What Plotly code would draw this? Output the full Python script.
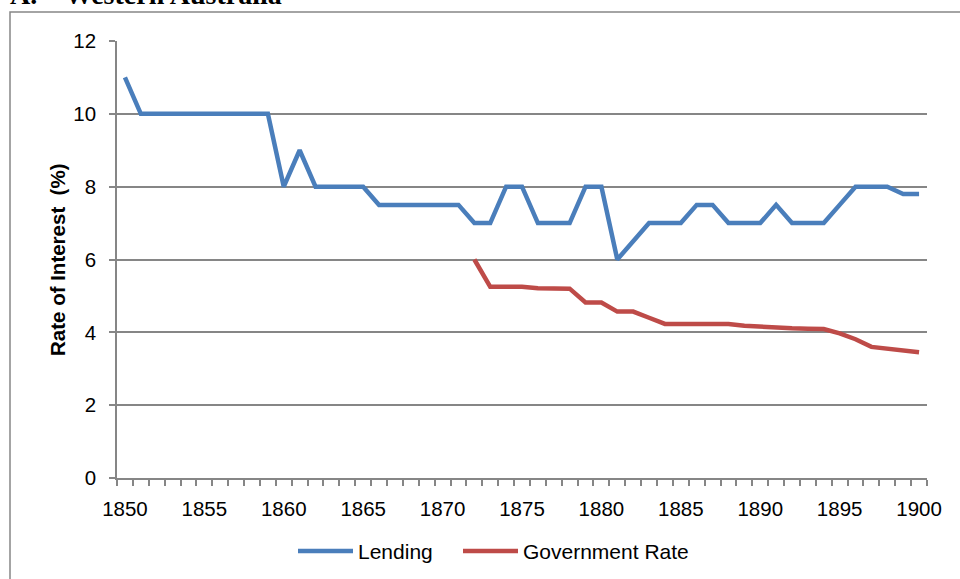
import plotly.graph_objects as go

years = list(range(1850, 1901))
lending = [11, 10, 10, 10, 10, 10, 10, 10, 10, 10,
           8, 9, 8, 8, 8, 8, 7.5, 7.5, 7.5, 7.5,
           7.5, 7.5, 7, 7, 8, 8, 7, 7, 7, 8,
           8, 6, 6.5, 7, 7, 7, 7.5, 7.5, 7, 7,
           7, 7.5, 7, 7, 7, 7.5, 8, 8, 8, 7.8,
           7.8]
gov_years = list(range(1872, 1901))
gov_rate = [6.0, 5.25, 5.25, 5.25, 5.21, 5.2, 5.2, 4.82, 4.82, 4.57,
            4.57, 4.4, 4.23, 4.23, 4.23, 4.23, 4.23, 4.18, 4.15, 4.13,
            4.11, 4.1, 4.09, 3.97, 3.81, 3.6, 3.54, 3.5, 3.45]
x_labels = list(range(1850, 1901, 5))
y_ticks = [0, 2, 4, 6, 8, 10, 12]
series_names = ["Lending", "Government Rate"]

BLUE = "#4A7EBB"
RED = "#BE4B48"
GRID = "#868686"
FONT = "Arial, Liberation Sans, sans-serif"

fig = go.Figure()
fig.add_trace(go.Scatter(x=years, y=lending, mode="lines", name=series_names[0],
                         line=dict(color=BLUE, width=4.5), showlegend=False))
fig.add_trace(go.Scatter(x=gov_years, y=gov_rate, mode="lines", name=series_names[1],
                         line=dict(color=RED, width=4.5), showlegend=False))

L, R, T, B = 117, 33, 41, 101
W, H = 960, 579
pw, ph = W - L - R, H - T - B

def px(x):
    return (x - L) / pw

def py(y):
    return (H - B - y) / ph

fig.update_layout(
    width=W, height=H,
    margin=dict(l=L, r=R, t=T, b=B, pad=0),
    plot_bgcolor="white", paper_bgcolor="white",
    font=dict(family=FONT, size=20, color="black"),
    xaxis=dict(range=[1849.5, 1900.5], tickvals=x_labels, ticktext=[str(v) for v in x_labels],
               ticks="", showgrid=False, zeroline=False,
               tickfont=dict(family=FONT, size=20.5, color="black"),
               showline=True, linecolor=GRID, linewidth=1.5,
               ticklabelstandoff=12,
               minor=dict(ticks="outside", tick0=1849.5, dtick=1, ticklen=6,
                          tickcolor=GRID, tickwidth=1.5, showgrid=False)),
    yaxis=dict(range=[0, 12], tickvals=y_ticks, ticks="outside", ticklen=6,
               tickcolor=GRID, tickwidth=1.5,
               tickfont=dict(family=FONT, size=20.5, color="black"),
               showgrid=True, gridcolor=GRID, gridwidth=1.5,
               zeroline=False, showline=True, linecolor=GRID, linewidth=1.5,
               ticklabelstandoff=9),
)

# legend (drawn manually to match the wide sample lines)
legend_items = [(series_names[0], BLUE, 298, 353), (series_names[1], RED, 463, 518)]
for name, col, x0, x1 in legend_items:
    fig.add_shape(type="line", xref="paper", yref="paper",
                  x0=px(x0), x1=px(x1), y0=py(551), y1=py(551),
                  line=dict(color=col, width=4.5))
    fig.add_annotation(text=name, xref="paper", yref="paper", x=px(x1 + 3), y=py(551),
                       showarrow=False, xanchor="left", yanchor="middle",
                       font=dict(family=FONT, size=21, color="black"))

fig.add_annotation(text="<b>Rate of Interest&nbsp; (%)</b>", textangle=-90, xref="paper", yref="paper",
                   x=px(57), y=py(260), showarrow=False,
                   font=dict(family=FONT, size=20.5, color="black"),
                   xanchor="center", yanchor="middle")
fig.add_annotation(text="<b>A.&nbsp;&nbsp;&nbsp; Western Australia</b>", xref="paper", yref="paper",
                   x=px(8), y=py(12), showarrow=False, xanchor="left", yanchor="bottom",
                   font=dict(family="Liberation Serif, Times New Roman, serif", size=28, color="black"))

fig.add_shape(type="rect", xref="paper", yref="paper",
              x0=px(10), x1=px(1000), y0=py(620), y1=py(12),
              line=dict(color=GRID, width=1.5), fillcolor="rgba(0,0,0,0)", layer="below")

fig.write_html("out.html")
